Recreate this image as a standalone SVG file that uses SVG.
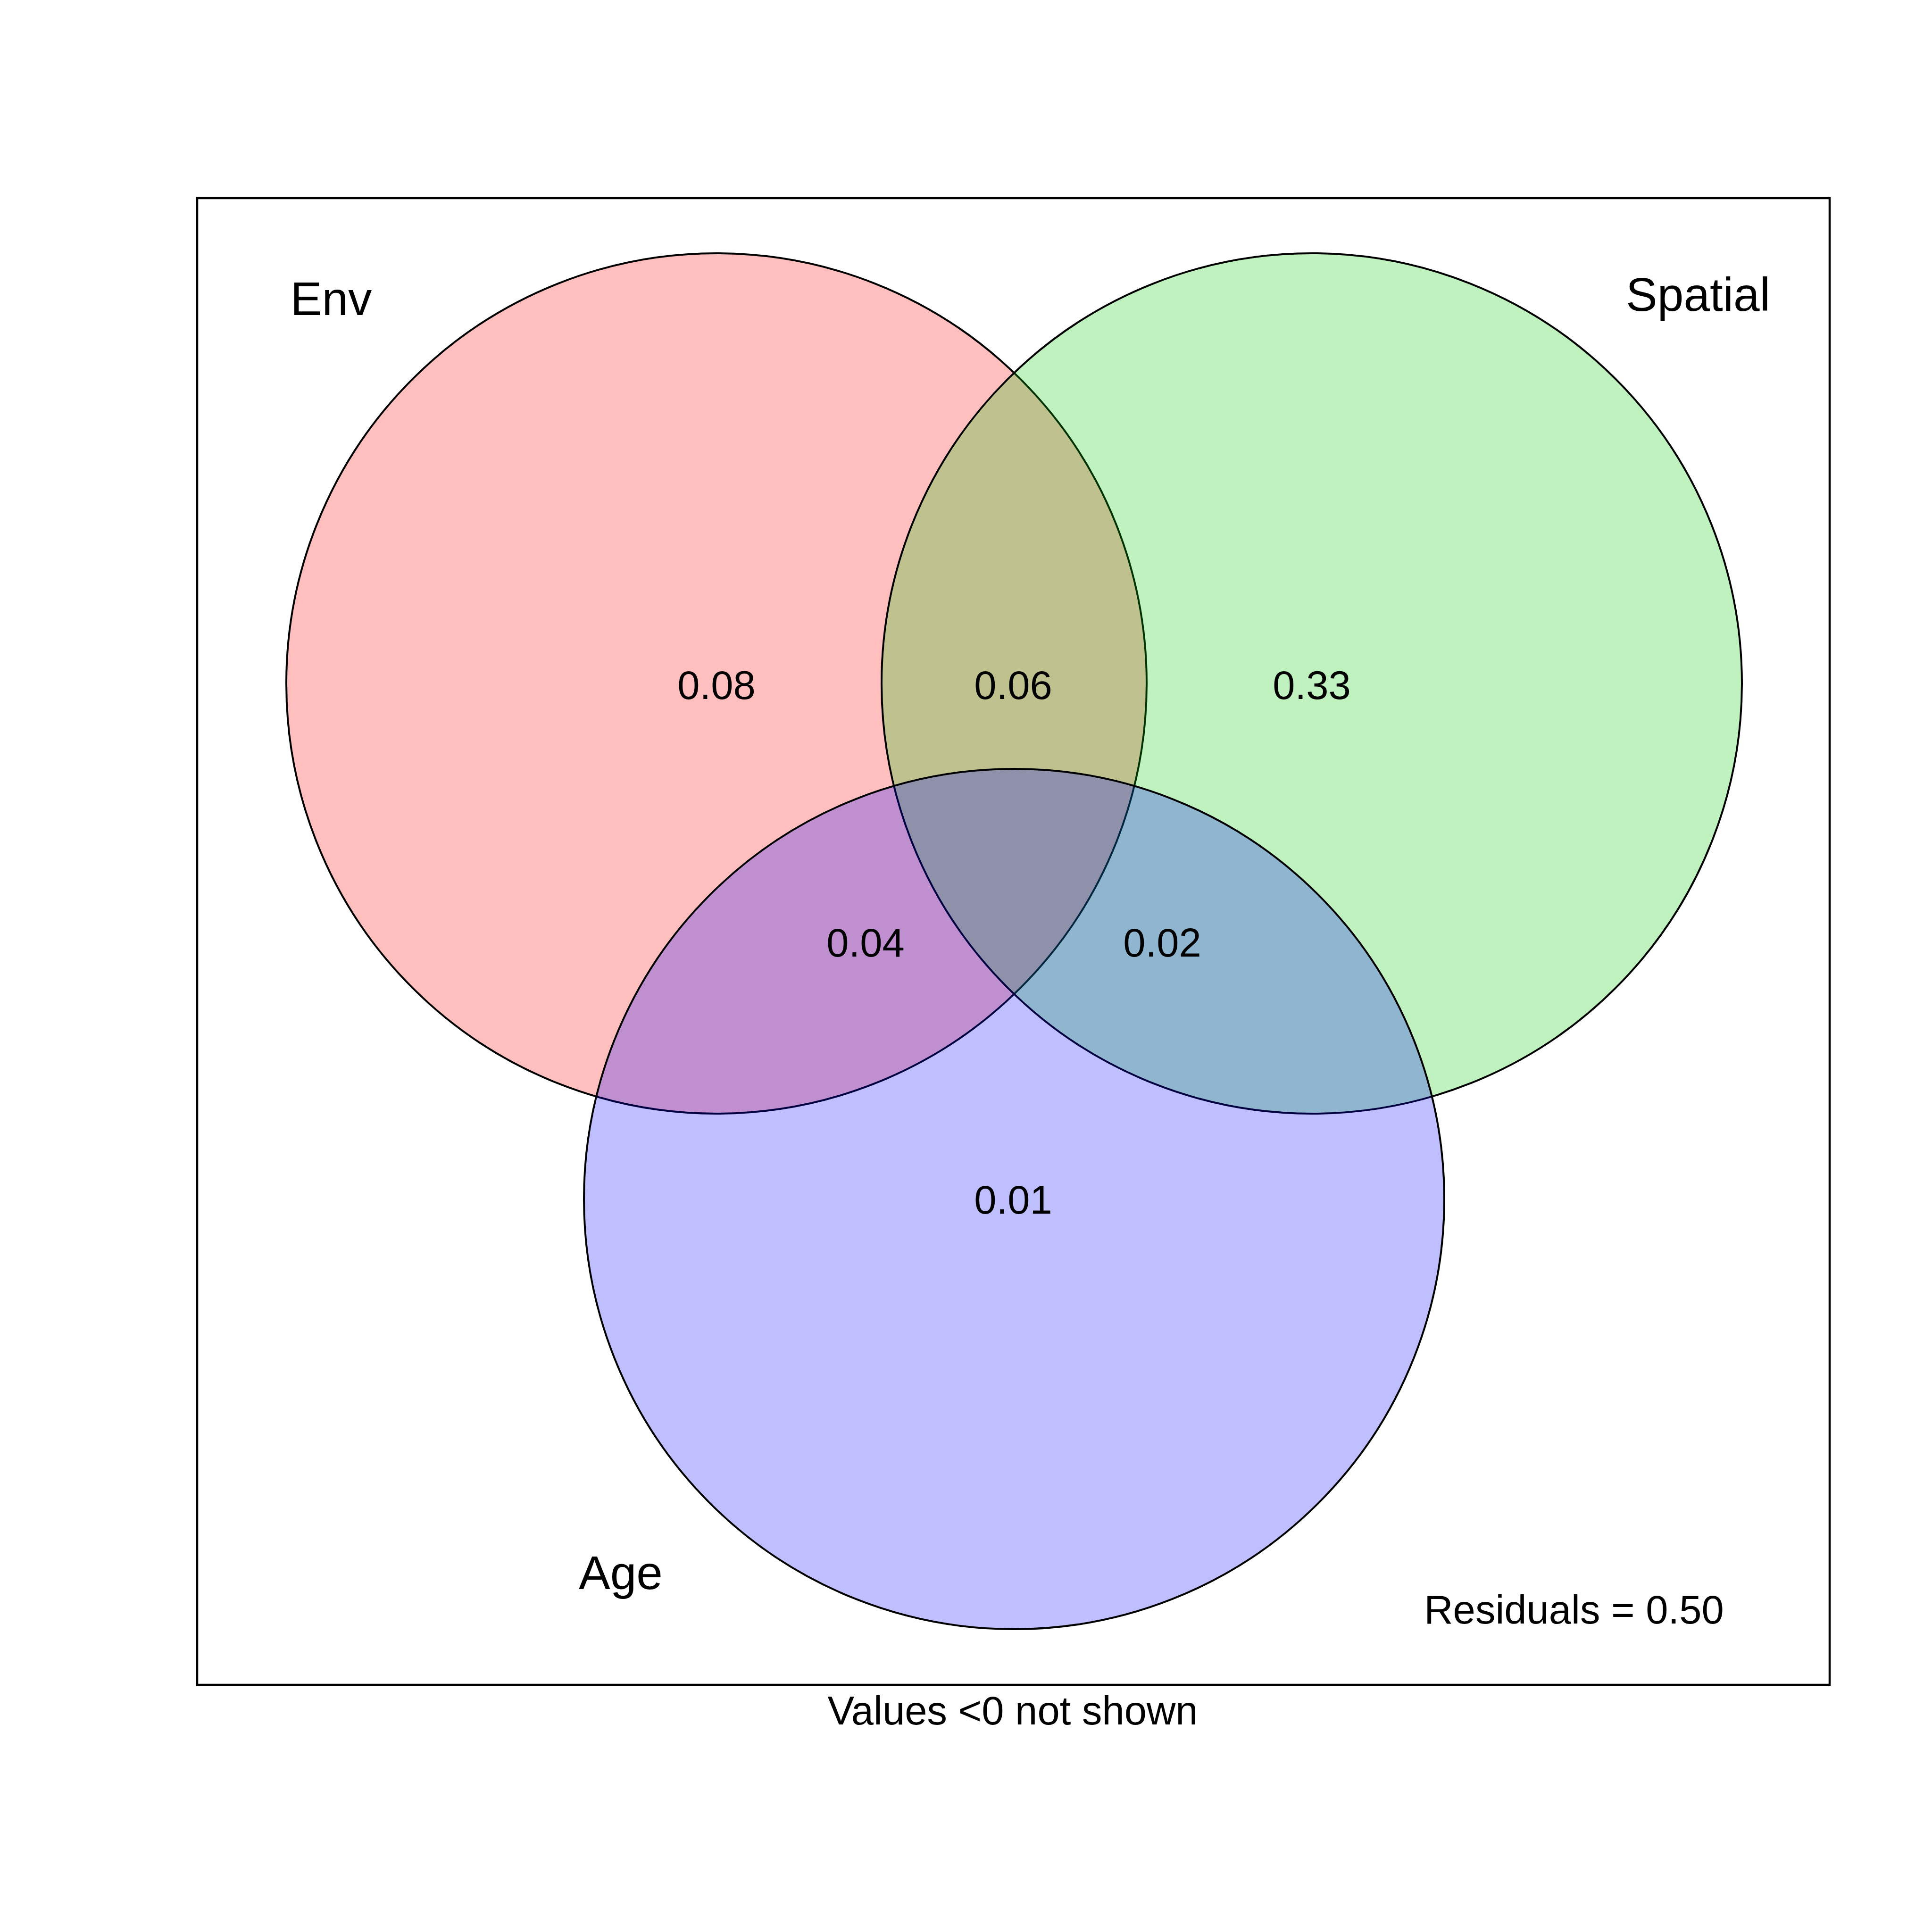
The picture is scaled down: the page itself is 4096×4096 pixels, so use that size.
<svg xmlns="http://www.w3.org/2000/svg" width="4096" height="4096" viewBox="0 0 4096 4096">
<style>
.c{stroke:#000;stroke-width:4;fill-opacity:0.25}
.t{font-family:"Liberation Sans",Arial,sans-serif;fill:#000;text-anchor:middle}
.big{font-size:100px}
.sm{font-size:85px}
</style>
<rect width="4096" height="4096" fill="#fff"/>
<rect x="418" y="420" width="3461" height="3152" fill="none" stroke="#000" stroke-width="4.5"/>
<g id="env"><circle class="c" cx="1519" cy="1449" r="912" fill="#FF0000"/></g>
<g id="spatial"><circle class="c" cx="2781" cy="1449" r="912" fill="#00CD00"/></g>
<g id="age"><circle class="c" cx="2150" cy="2542" r="912" fill="#0000FF"/></g>
<g id="connectors"></g>
<g id="labels">
<text class="t big" x="702" y="668">Env</text>
<text class="t big" x="3600" y="659">Spatial</text>
<text class="t big" x="1316" y="3369">Age</text>
<text class="t sm" x="1519" y="1482">0.08</text>
<text class="t sm" x="2148" y="1482">0.06</text>
<text class="t sm" x="2781" y="1482">0.33</text>
<text class="t sm" x="1835" y="2028">0.04</text>
<text class="t sm" x="2464" y="2028">0.02</text>
<text class="t sm" x="2148" y="2573">0.01</text>
<text class="t sm" x="3337" y="3442">Residuals = 0.50</text>
<text class="t sm" x="2147" y="3656">Values &lt;0 not shown</text>
</g>
</svg>
